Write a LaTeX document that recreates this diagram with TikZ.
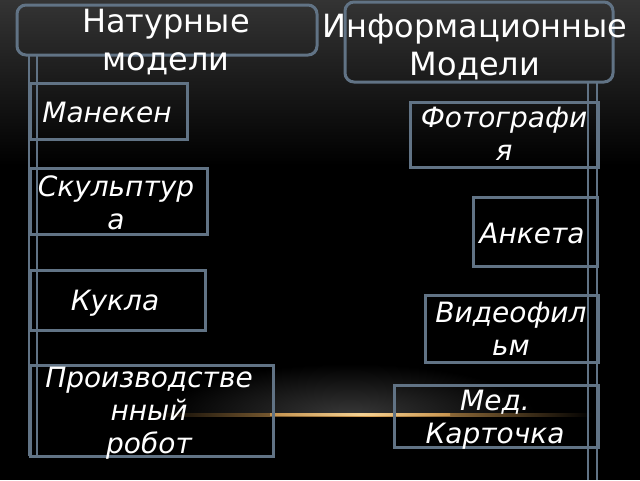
\documentclass[tikz,border=0pt]{standalone}
\usepackage{fontspec}
\setmainfont{DejaVu Sans}
\definecolor{bordc}{RGB}{97,115,133}
\definecolor{bgtop}{RGB}{52,52,52}
\definecolor{glowc}{RGB}{55,55,55}
\definecolor{goldc}{RGB}{215,160,85}
\definecolor{goldhi}{RGB}{255,225,165}
\begin{document}
\begin{tikzpicture}[x=1pt,y=-1pt,
  hbox/.style={draw=bordc,line width=3pt,rounded corners=9pt,inner sep=0pt},
  ibox/.style={draw=bordc,line width=3pt,inner sep=0pt},
  htext/.style={text=white,align=center,inner sep=0pt,font=\fontsize{32}{38}\selectfont},
  itext/.style={text=white,align=center,inner sep=0pt,font=\fontsize{28}{33}\selectfont\itshape},
  vline/.style={draw=bordc,line width=2.5pt}]
% background
\fill[black] (0,0) rectangle (640,480);
\useasboundingbox (0,0) rectangle (640,480);
\shade[top color=bgtop, bottom color=black] (0,0) rectangle (640,165);
\begin{scope}
\clip (0,300) rectangle (640,414);
\shade[inner color=glowc, outer color=black] (350,414) ellipse [x radius=185, y radius=50];
\end{scope}
\shade[left color=black, right color=black, middle color=goldc] (150,413.2) rectangle (592,416.3);
\shade[left color=goldc, right color=goldc, middle color=goldhi, opacity=0.8] (270,413.9) rectangle (450,415.5);
% vertical lines
\coordinate (la1) at (29,55); \coordinate (lb1) at (29,456);
\coordinate (la2) at (37,55); \coordinate (lb2) at (37,456);
\coordinate (ra1) at (588,82); \coordinate (rb1) at (588,480);
\coordinate (ra2) at (597,82); \coordinate (rb2) at (597,480);
\draw[vline] (la1) -- (lb1);
\draw[vline] (la2) -- (lb2);
\draw[vline] (ra1) -- (rb1);
\draw[vline] (ra2) -- (rb2);
% header boxes
\node[hbox,minimum width=300pt,minimum height=50pt] (hl) at (167,30) {};
\node[hbox,minimum width=268pt,minimum height=80pt] (hr) at (479,42) {};
% item boxes
\node[ibox,minimum width=157pt,minimum height=56pt] (b1) at (108.5,111) {};
\node[ibox,minimum width=177pt,minimum height=66pt] (b2) at (118.5,201) {};
\node[ibox,minimum width=175pt,minimum height=60pt] (b3) at (117.5,300) {};
\node[ibox,minimum width=243pt,minimum height=91pt] (b4) at (151.5,410.5) {};
\node[ibox,minimum width=188pt,minimum height=65pt] (c1) at (504,134.5) {};
\node[ibox,minimum width=124pt,minimum height=69pt] (c2) at (535,231.5) {};
\node[ibox,minimum width=173pt,minimum height=67pt] (c3) at (511.5,328.5) {};
\node[ibox,minimum width=204pt,minimum height=62pt] (c4) at (496,416) {};
% texts (base anchor = baseline of last line)
\node[htext,anchor=base] (thl) at (166,70) {Натурные\\модели};
\node[htext,anchor=base] (thr) at (475,75) {Информационные\\Модели};
\node[itext,anchor=base] (t1) at (107,122) {Манекен};
\node[itext,anchor=base] (t2) at (116,229) {Скульптур\\а};
\node[itext,anchor=base] (t3) at (115,310) {Кукла};
\node[itext,anchor=base] (t4) at (149,453) {Производстве\\нный\\робот};
\node[itext,anchor=base] (s1) at (504,160) {Фотографи\\я};
\node[itext,anchor=base] (s2) at (532,243) {Анкета};
\node[itext,anchor=base] (s3) at (511,355) {Видеофил\\ьм};
\node[itext,anchor=base] (s4) at (495,443) {Мед.\\Карточка};
\end{tikzpicture}
\end{document}
